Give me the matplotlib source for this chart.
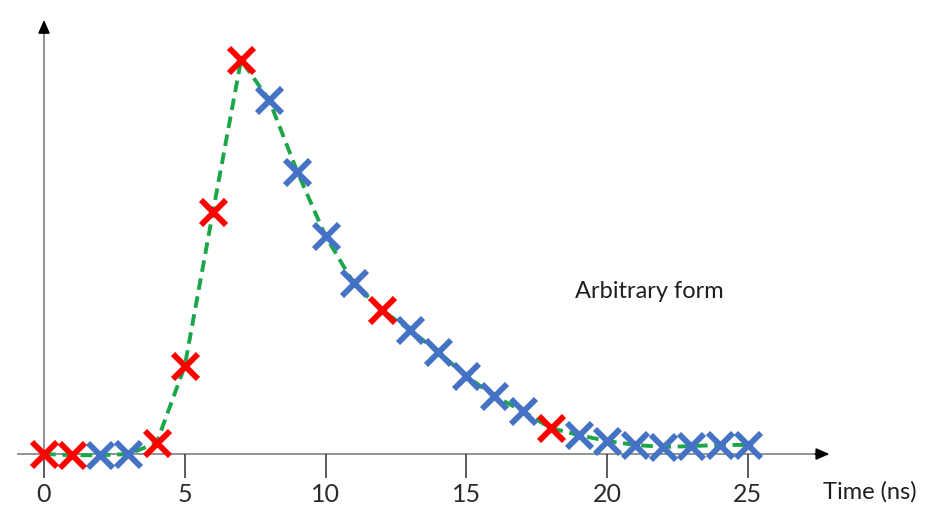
import matplotlib
matplotlib.use("Agg")
import matplotlib.pyplot as plt

plt.rcParams["font.family"] = ["Lato", "DejaVu Sans"]

# samples (peak normalised to 1)
t = list(range(26))
signal = [0.0, -0.003, -0.003, 0.0, 0.028, 0.223, 0.614, 1.0, 0.898, 0.716,
          0.553, 0.434, 0.365, 0.315, 0.259, 0.198, 0.147, 0.109, 0.066, 0.048,
          0.033, 0.023, 0.018, 0.020, 0.023, 0.023]
red_idx = [0, 1, 4, 5, 6, 7, 12, 18]
x_ticks = [0, 5, 10, 15, 20, 25]

red_t = [t[i] for i in red_idx]
red_v = [signal[i] for i in red_idx]
blue_t = [t[i] for i in t if i not in red_idx]
blue_v = [signal[i] for i in t if i not in red_idx]

fig = plt.figure(figsize=(9.42, 5.06), dpi=100)
ax = fig.add_axes([0, 0, 1, 1])
ax.set_xlim(-1.563, 31.9)
ax.set_ylim(-0.1294, 1.1548)

ax.plot(t, signal, color="#1ba64a", lw=2.8, linestyle=(0, (3, 1.7)), zorder=2)
ax.plot(blue_t, blue_v, "x", color="#4472c4", ms=18, mew=4.2, zorder=3)
ax.plot(red_t, red_v, "x", color="#ff0000", ms=18, mew=4.2, zorder=3)

# axes drawn as arrows through the origin
for side in ["top", "right"]:
    ax.spines[side].set_visible(False)
ax.spines["bottom"].set_position(("data", 0))
ax.spines["left"].set_position(("data", 0))
ax.spines["bottom"].set_bounds(-0.92, 27.7)
ax.spines["left"].set_bounds(0, 1.08)
for side in ["bottom", "left"]:
    ax.spines[side].set_color("#808080")
    ax.spines[side].set_linewidth(1.2)
    ax.spines[side].set_zorder(1)

ax.annotate("", xy=(28.0, 0), xytext=(27.3, 0),
            arrowprops=dict(arrowstyle="-|>,head_length=0.8,head_width=0.35",
                            color="black", lw=1.2))
ax.annotate("", xy=(0, 1.109), xytext=(0, 1.07),
            arrowprops=dict(arrowstyle="-|>,head_length=0.8,head_width=0.35",
                            color="black", lw=1.2))

ax.set_xticks(x_ticks)
ax.set_yticks([])
ax.tick_params(axis="x", direction="out", length=17, width=1.2, color="#404040",
               pad=3, labelsize=18, labelcolor="#2b2b2b")

ax.text(18.86, 0.414, "Arbitrary form", fontsize=17, color="#1f1f1f",
        ha="left", va="center")
ax.text(27.67, -0.094, "Time (ns)", fontsize=17, color="#1f1f1f",
        ha="left", va="center")

fig.savefig("out.png", dpi=100)
